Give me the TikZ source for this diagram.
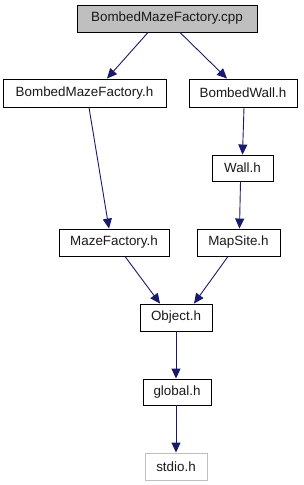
\documentclass[tikz,border=0pt]{standalone}
\usepackage{fontspec}
\setmainfont{Liberation Sans}
\usetikzlibrary{arrows.meta}
\definecolor{edgeblue}{RGB}{25,25,112}
\definecolor{boxgray}{RGB}{191,191,191}
\tikzset{
  fbox/.style={draw=black, line width=0.9pt, rectangle, inner sep=0pt, font=\fontsize{13.4}{15}\selectfont, text=black!90},
  dep/.style={draw=edgeblue, line width=0.9pt, -{Triangle[length=10pt,width=9pt,fill=edgeblue]}},
}
\begin{document}
\begin{tikzpicture}[x=1pt,y=-1pt]
\useasboundingbox (0,0) rectangle (304,485);
\node[fbox, fill=boxgray, minimum width=180pt, minimum height=27pt] (cpp) at (167,18.5) {BombedMazeFactory.cpp};
\node[fbox, minimum width=163pt, minimum height=28pt] (bmf) at (84.5,93) {BombedMazeFactory.h};
\node[fbox, minimum width=108pt, minimum height=28pt] (bw) at (243,93) {BombedWall.h};
\node[fbox, minimum width=61pt, minimum height=26pt] (wall) at (242.5,168) {Wall.h};
\node[fbox, minimum width=110pt, minimum height=27pt] (mf) at (114,242.5) {MazeFactory.h};
\node[fbox, minimum width=83pt, minimum height=27pt] (ms) at (238.5,242.5) {MapSite.h};
\node[fbox, minimum width=72pt, minimum height=27pt] (obj) at (176,317.5) {Object.h};
\node[fbox, minimum width=68pt, minimum height=26pt] (glob) at (177,392) {global.h};
\node[fbox, draw=boxgray, minimum width=62pt, minimum height=27pt] (stdio) at (176,466.5) {stdio.h};
\draw[dep] ([xshift=-19pt]cpp.south) -- ([xshift=22.5pt]bmf.north);
\draw[dep] ([xshift=13pt]cpp.south) -- ([xshift=-16pt]bw.north);
\draw[dep] ([xshift=4.5pt]bmf.south) -- ([xshift=-5pt]mf.north);
\draw[dep] ([xshift=1pt]bw.south) -- ([xshift=0pt]wall.north);
\draw[dep] ([xshift=-2pt]wall.south) -- ([xshift=1pt]ms.north);
\draw[dep] ([xshift=11pt]mf.south) -- ([xshift=-16pt]obj.north);
\draw[dep] ([xshift=-10.5pt]ms.south) -- ([xshift=18pt]obj.north);
\draw[dep] (obj.south) -- ([xshift=-1pt]glob.north);
\draw[dep] ([xshift=-1pt]glob.south) -- (stdio.north);
\end{tikzpicture}
\end{document}
